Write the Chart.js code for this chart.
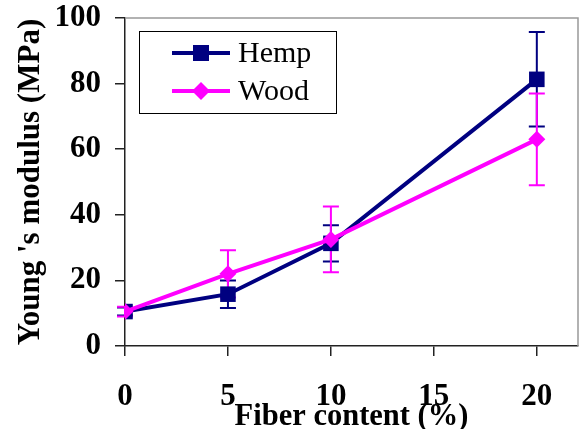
<!DOCTYPE html>
<html>
<head>
<meta charset="utf-8">
<script src="https://cdn.jsdelivr.net/npm/chart.js@4/dist/chart.umd.min.js"></script>
<style>
  body { margin: 0; background: #fff; }
  #wrap { width: 579px; height: 429px; }
</style>
</head>
<body>
<div id="wrap"><canvas id="myChart" width="579" height="429"></canvas></div>
<script>
// Data
const fiberContent = [0, 5, 10, 20];
const hempModulus = [10.5, 15.8, 31.3, 81.3];
const hempError = [1.2, 4.2, 5.5, 14.4];
const woodModulus = [10.5, 22.0, 32.5, 63.0];
const woodError = [1.5, 7.2, 10.0, 14.0];
const xTicks = [0, 5, 10, 15, 20];
const yTicks = [0, 20, 40, 60, 80, 100];

const serif = "'Liberation Serif', 'Times New Roman', serif";

const toPoints = (xs, ys) => xs.map((x, i) => ({ x: x, y: ys[i] }));

// Draws vertical error bars below the markers
const errorBars = {
  id: 'errorBars',
  beforeDatasetsDraw(chart) {
    const ctx = chart.ctx;
    const xs = chart.scales.x;
    const ys = chart.scales.y;
    chart.data.datasets.forEach(ds => {
      ctx.save();
      ctx.strokeStyle = ds.borderColor;
      ctx.lineWidth = 2;
      ds.data.forEach((p, i) => {
        const e = ds.errors[i];
        const px = xs.getPixelForValue(p.x);
        const top = ys.getPixelForValue(p.y + e);
        const bot = ys.getPixelForValue(p.y - e);
        ctx.beginPath();
        ctx.moveTo(px, top); ctx.lineTo(px, bot);
        ctx.moveTo(px - 8, top); ctx.lineTo(px + 8, top);
        ctx.moveTo(px - 8, bot); ctx.lineTo(px + 8, bot);
        ctx.stroke();
      });
      ctx.restore();
    });
  }
};

// Gray frame on top/right and the boxed legend inside the plot
const frameAndLegend = {
  id: 'frameAndLegend',
  afterDraw(chart) {
    const ctx = chart.ctx;
    const a = chart.chartArea;
    ctx.save();
    ctx.strokeStyle = '#999';
    ctx.lineWidth = 1.5;
    ctx.beginPath();
    ctx.moveTo(a.left, a.top); ctx.lineTo(a.right, a.top); ctx.lineTo(a.right, a.bottom);
    ctx.stroke();

    // legend box
    const bx = 139.5, by = 31.5, bw = 197, bh = 82;
    ctx.fillStyle = '#fff';
    ctx.fillRect(bx, by, bw, bh);
    ctx.strokeStyle = '#000';
    ctx.lineWidth = 1;
    ctx.strokeRect(bx, by, bw, bh);

    const rows = [53, 91];
    chart.data.datasets.forEach((ds, i) => {
      const cy = rows[i];
      ctx.strokeStyle = ds.borderColor;
      ctx.lineWidth = 4;
      ctx.beginPath();
      ctx.moveTo(172, cy); ctx.lineTo(230, cy);
      ctx.stroke();
      ctx.fillStyle = ds.pointBackgroundColor;
      ctx.beginPath();
      if (ds.pointStyle === 'rect') {
        ctx.rect(193, cy - 8, 16, 16);
      } else {
        ctx.moveTo(201, cy - 9); ctx.lineTo(210, cy); ctx.lineTo(201, cy + 9); ctx.lineTo(192, cy);
        ctx.closePath();
      }
      ctx.fill();
      ctx.fillStyle = '#000';
      ctx.font = '30px ' + serif;
      ctx.textBaseline = 'middle';
      ctx.fillText(ds.label, 238, cy + 1);
    });
    ctx.restore();
  }
};

const ctx = document.getElementById('myChart');

new Chart(ctx, {
  type: 'line',
  data: {
    datasets: [
      {
        label: 'Hemp',
        data: toPoints(fiberContent, hempModulus),
        errors: hempError,
        borderColor: '#000080',
        backgroundColor: '#000080',
        pointBackgroundColor: '#000080',
        pointBorderColor: '#000080',
        pointStyle: 'rect',
        pointRadius: 11,
        pointBorderWidth: 0,
        borderWidth: 4,
        order: 2
      },
      {
        label: 'Wood',
        data: toPoints(fiberContent, woodModulus),
        errors: woodError,
        borderColor: '#ff00ff',
        backgroundColor: '#ff00ff',
        pointBackgroundColor: '#ff00ff',
        pointBorderColor: '#ff00ff',
        pointStyle: 'rectRot',
        pointRadius: 8.5,
        pointBorderWidth: 0,
        borderWidth: 4,
        order: 1
      }
    ]
  },
  options: {
    responsive: false,
    animation: false,
    layout: { autoPadding: false, padding: { top: 18, right: 1, left: 0, bottom: 0 } },
    plugins: {
      legend: { display: false },
      tooltip: { enabled: false }
    },
    scales: {
      x: {
        type: 'linear',
        min: 0,
        max: 22,
        afterBuildTicks: s => { s.ticks = xTicks.map(v => ({ value: v })); },
        afterFit: s => { s.height = 83; s.paddingLeft = 0; s.paddingRight = 0; },
        grid: { drawOnChartArea: false, tickLength: 10, color: '#222', lineWidth: 1.5 },
        border: { color: '#222', width: 1.5 },
        ticks: { color: '#000', font: { family: serif, size: 31, weight: 'bold' }, padding: 22 },
        title: {
          display: true,
          text: 'Fiber content (%)',
          color: '#000',
          font: { family: serif, size: 30.5, weight: 'bold' },
          padding: { top: 0, bottom: -6 }
        }
      },
      y: {
        min: 0,
        max: 100,
        afterBuildTicks: s => { s.ticks = yTicks.map(v => ({ value: v })); },
        afterFit: s => { s.width = 125; s.paddingTop = 0; s.paddingBottom = 0; },
        grid: { drawOnChartArea: false, tickLength: 10, color: '#222', lineWidth: 1.5 },
        border: { color: '#222', width: 1.5 },
        ticks: { color: '#000', font: { family: serif, size: 31, weight: 'bold' }, padding: 14 },
        title: {
          display: true,
          text: "Young 's modulus (MPa)",
          color: '#000',
          font: { family: serif, size: 31, weight: 'bold' },
          padding: { top: 12, bottom: 0 }
        }
      }
    }
  },
  plugins: [errorBars, frameAndLegend]
});
</script>
</body>
</html>
